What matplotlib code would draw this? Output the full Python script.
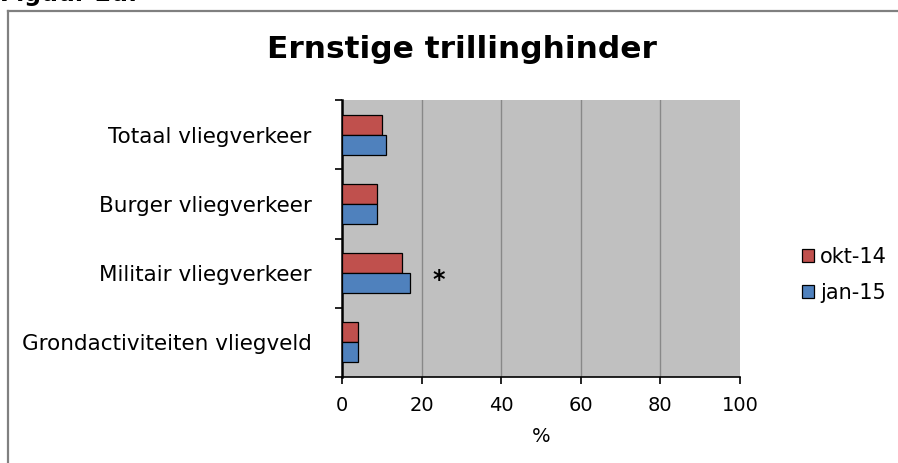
import matplotlib
matplotlib.use("Agg")
import matplotlib.pyplot as plt
from matplotlib.lines import Line2D
import numpy as np

categories = ["Totaal vliegverkeer", "Burger vliegverkeer", "Militair vliegverkeer", "Grondactiviteiten vliegveld"]
okt14 = [10, 8.7, 15, 3.9]
jan15 = [11, 8.7, 17.2, 3.9]
series_labels = ["okt-14", "jan-15"]
xticks = [0, 20, 40, 60, 80, 100]
title = "Ernstige trillinghinder"
fig_caption = "Figuur 2d:"

W, H = 898, 463
fig = plt.figure(figsize=(W / 100, H / 100), dpi=100)
FONT = "DejaVu Sans"

# outer frame (top and left visible)
fig.add_artist(Line2D([8 / W, 8 / W], [0, 1 - 11 / H], color="#808080", lw=1.6, transform=fig.transFigure))
fig.add_artist(Line2D([8 / W, 1], [1 - 11 / H, 1 - 11 / H], color="#808080", lw=1.6, transform=fig.transFigure))
fig.text(0.0, 1 - 1.5 / H, fig_caption, fontsize=17, fontweight="bold", family=FONT, va="baseline", ha="left")

ax = fig.add_axes([342 / W, 1 - 377 / H, (740 - 342) / W, (377 - 100) / H])
ax.set_facecolor("#C0C0C0")

y = np.arange(len(categories))
h = 0.29
ax.barh(y - h / 2, okt14, height=h, color="#C0504D", edgecolor="black", lw=0.9, label=series_labels[0], zorder=3)
ax.barh(y + h / 2, jan15, height=h, color="#4F81BD", edgecolor="black", lw=0.9, label=series_labels[1], zorder=3)

ax.set_xlim(0, 100)
ax.set_ylim(3.5, -0.5)
ax.set_xticks(xticks)
ax.set_xticklabels([str(t) for t in xticks], fontsize=14, family=FONT)
ax.set_yticks(y)
ax.set_yticklabels(categories, fontsize=15.5, family=FONT)
ax.set_yticks(np.arange(-0.5, len(categories), 1.0), minor=True)
ax.tick_params(axis="y", which="major", length=0, pad=22)
ax.tick_params(axis="y", which="minor", length=5, width=1.2, direction="out")
ax.tick_params(axis="x", which="major", length=5, width=1.2, direction="out", pad=9)

for gx in xticks[1:-1]:
    ax.axvline(gx, color="#888888", lw=1.0, zorder=1)

for s in ["top", "right"]:
    ax.spines[s].set_visible(False)
ax.spines["left"].set_linewidth(1.8)
ax.spines["bottom"].set_linewidth(1.2)

ax.text(24.2, 2.1, "*", fontsize=17, fontweight="bold", ha="center", va="center", family=FONT, zorder=4)

ax.set_xlabel("%", fontsize=14, family=FONT, labelpad=8)

fig.text(462 / W, 1 - 49 / H, title, fontsize=22.5, fontweight="bold", family=FONT, ha="center", va="center")

leg = fig.legend(*ax.get_legend_handles_labels(), loc="center left",
                 bbox_to_anchor=(802 / W, 1 - 275 / H), bbox_transform=fig.transFigure,
                 frameon=False, prop={"family": FONT, "size": 15},
                 handlelength=0.58, handleheight=0.58, handletextpad=0.28,
                 labelspacing=0.75, borderaxespad=0, borderpad=0)

fig.savefig("out.png", dpi=100, facecolor="white")
